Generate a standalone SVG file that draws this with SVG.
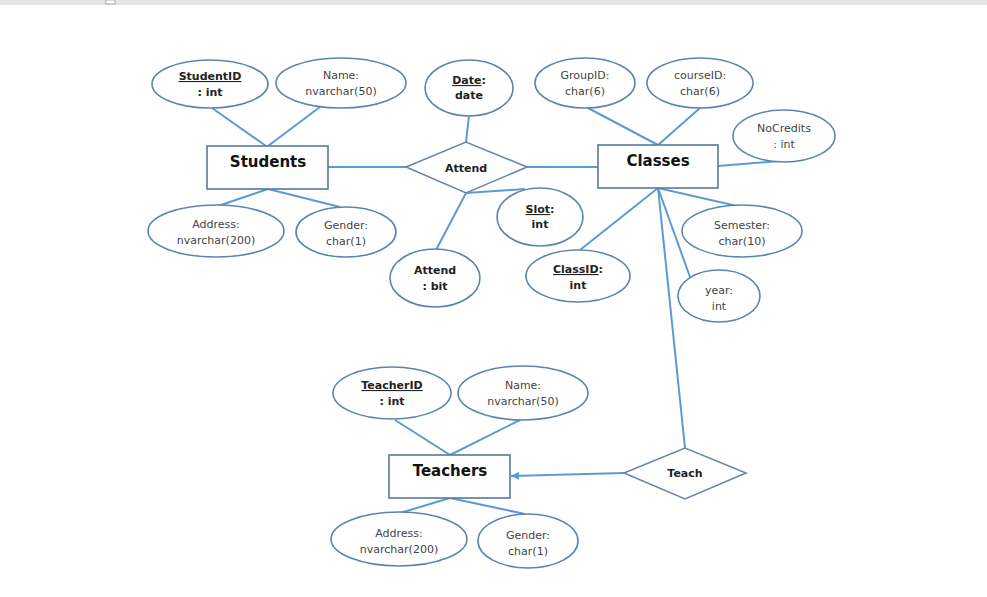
<svg xmlns="http://www.w3.org/2000/svg" width="987" height="597" viewBox="0 0 987 597">
<style>
.bg{fill:#ffffff}
.attr ellipse{fill:#ffffff;stroke:#5b84b1;stroke-width:1.6}
.ent rect{fill:#ffffff;stroke:#56799f;stroke-width:1.6}
.rel polygon{fill:#ffffff;stroke:#6a87a8;stroke-width:1.6}
.conn line{stroke:#5b9bd5;stroke-width:2;fill:none}
text{font-family:"DejaVu Sans","Liberation Sans",sans-serif;text-anchor:middle;fill:#444}
.t{font-size:11px}
.b{font-size:11px;font-weight:bold;fill:#222}
.e{font-size:15px;font-weight:bold;fill:#111}
.u{text-decoration:underline}
</style>
<defs>
<marker id="arr" markerWidth="10" markerHeight="10" refX="8" refY="5" orient="auto" markerUnits="userSpaceOnUse">
<path d="M0,1 L8,5 L0,9 Z" fill="#5b9bd5"/>
</marker>
</defs>
<rect class="bg" x="0" y="0" width="987" height="597"/>
<rect x="0" y="0" width="987" height="5" fill="#e4e4e4"/>
<rect x="106" y="0" width="9" height="4" fill="#fff" stroke="#999" stroke-width="0.8"/>

<g id="connectors" class="conn">
<line x1="212" y1="108" x2="266" y2="146"/>
<line x1="320" y1="107" x2="268" y2="146"/>
<line x1="268" y1="189" x2="218" y2="206"/>
<line x1="268" y1="189" x2="340" y2="207"/>
<line x1="328" y1="167" x2="406" y2="167"/>
<line x1="469" y1="116" x2="466" y2="142"/>
<line x1="527" y1="167" x2="598" y2="167"/>
<line x1="466" y1="193" x2="436" y2="250"/>
<line x1="466" y1="193" x2="525" y2="189"/>
<line x1="588" y1="108" x2="658" y2="145"/>
<line x1="700" y1="108" x2="658" y2="145"/>
<line x1="780" y1="161" x2="718" y2="166"/>
<line x1="658" y1="188" x2="580" y2="250"/>
<line x1="658" y1="188" x2="737" y2="206"/>
<line x1="658" y1="188" x2="690" y2="277"/>
<line x1="658" y1="188" x2="685" y2="448"/>
<line x1="395" y1="420" x2="450" y2="455"/>
<line x1="520" y1="420" x2="450" y2="455"/>
<line x1="450" y1="498" x2="400" y2="513"/>
<line x1="450" y1="498" x2="525" y2="514"/>
<line x1="624" y1="473" x2="511" y2="476" marker-end="url(#arr)"/>
</g>

<g id="Students" class="ent"><rect x="207" y="146" width="121" height="43"/><text class="e" x="268" y="167">Students</text></g>
<g id="Classes" class="ent"><rect x="598" y="145" width="120" height="43"/><text class="e" x="658" y="166">Classes</text></g>
<g id="Teachers" class="ent"><rect x="389" y="455" width="121" height="43"/><text class="e" x="450" y="476">Teachers</text></g>

<g id="Attend" class="rel"><polygon points="406,167 466,142 527,167 466,193"/><text class="b" x="466" y="172">Attend</text></g>
<g id="Teach" class="rel"><polygon points="624,473 685,448 746,473 685,499"/><text class="b" x="685" y="477">Teach</text></g>

<g id="StudentID" class="attr"><ellipse cx="210" cy="84" rx="58" ry="24"/><text class="b" x="210" y="80"><tspan class="u">StudentID</tspan></text><text class="b" x="210" y="96">: int</text></g>
<g id="StudentName" class="attr"><ellipse cx="341" cy="83" rx="65" ry="25"/><text class="t" x="341" y="79">Name:</text><text class="t" x="341" y="95">nvarchar(50)</text></g>
<g id="Date" class="attr"><ellipse cx="469" cy="88" rx="44" ry="28"/><text class="b" x="469" y="84"><tspan class="u">Date</tspan>:</text><text class="b" x="469" y="99">date</text></g>
<g id="GroupID" class="attr"><ellipse cx="585" cy="83" rx="50" ry="25"/><text class="t" x="585" y="79">GroupID:</text><text class="t" x="585" y="95">char(6)</text></g>
<g id="courseID" class="attr"><ellipse cx="700" cy="83" rx="53" ry="25"/><text class="t" x="700" y="79">courseID:</text><text class="t" x="700" y="95">char(6)</text></g>
<g id="NoCredits" class="attr"><ellipse cx="784" cy="136" rx="51" ry="26"/><text class="t" x="784" y="132">NoCredits</text><text class="t" x="784" y="148">: int</text></g>
<g id="StudentAddress" class="attr"><ellipse cx="216" cy="231" rx="68" ry="26"/><text class="t" x="216" y="228">Address:</text><text class="t" x="216" y="244">nvarchar(200)</text></g>
<g id="StudentGender" class="attr"><ellipse cx="346" cy="232" rx="50" ry="25"/><text class="t" x="346" y="229">Gender:</text><text class="t" x="346" y="245">char(1)</text></g>
<g id="AttendBit" class="attr"><ellipse cx="435" cy="278" rx="45" ry="29"/><text class="b" x="435" y="274">Attend</text><text class="b" x="435" y="290">: bit</text></g>
<g id="Slot" class="attr"><ellipse cx="540" cy="217" rx="43" ry="29"/><text class="b" x="540" y="213"><tspan class="u">Slot</tspan>:</text><text class="b" x="540" y="228">int</text></g>
<g id="ClassID" class="attr"><ellipse cx="578" cy="276" rx="52" ry="26"/><text class="b" x="578" y="273"><tspan class="u">ClassID</tspan>:</text><text class="b" x="578" y="289">int</text></g>
<g id="Semester" class="attr"><ellipse cx="742" cy="231" rx="60" ry="26"/><text class="t" x="742" y="229">Semester:</text><text class="t" x="742" y="245">char(10)</text></g>
<g id="year" class="attr"><ellipse cx="719" cy="296" rx="41" ry="26"/><text class="t" x="719" y="294">year:</text><text class="t" x="719" y="310">int</text></g>
<g id="TeacherID" class="attr"><ellipse cx="392" cy="393" rx="59" ry="26"/><text class="b" x="392" y="389"><tspan class="u">TeacherID</tspan></text><text class="b" x="392" y="405">: int</text></g>
<g id="TeacherName" class="attr"><ellipse cx="523" cy="393" rx="65" ry="27"/><text class="t" x="523" y="389">Name:</text><text class="t" x="523" y="405">nvarchar(50)</text></g>
<g id="TeacherAddress" class="attr"><ellipse cx="399" cy="539" rx="68" ry="27"/><text class="t" x="399" y="537">Address:</text><text class="t" x="399" y="553">nvarchar(200)</text></g>
<g id="TeacherGender" class="attr"><ellipse cx="528" cy="541" rx="50" ry="27"/><text class="t" x="528" y="539">Gender:</text><text class="t" x="528" y="555">char(1)</text></g>
</svg>
